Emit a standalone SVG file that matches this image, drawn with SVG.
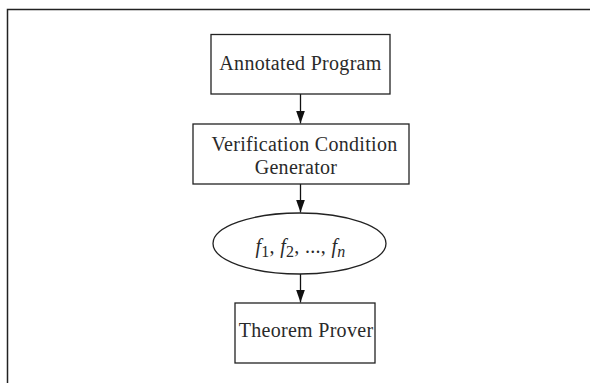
<svg xmlns="http://www.w3.org/2000/svg" width="590" height="383" viewBox="0 0 590 383">
<style>
.box{fill:#fff;stroke:#222;stroke-width:1.3}
.t{font-family:"Liberation Serif","DejaVu Serif",serif;font-size:20px;fill:#2a2a2a;text-anchor:middle;letter-spacing:0.3px}
.edge{stroke:#111;stroke-width:1.3;fill:none;marker-end:url(#ah)}
</style>
<defs>
<marker id="ah" markerWidth="13" markerHeight="9" refX="13" refY="4.5" orient="auto" markerUnits="userSpaceOnUse" viewBox="0 0 13 9">
<polygon points="0,0 13,4.5 0,9" fill="#111"/>
</marker>
</defs>
<rect width="590" height="383" fill="#fff"/>
<path d="M7.5,383 V9.5 H590" fill="none" stroke="#222" stroke-width="1.5"/>
<g id="connectors">
<line class="edge" x1="300.5" y1="94" x2="300.5" y2="123.5"/>
<line class="edge" x1="300.5" y1="184" x2="300.5" y2="212.5"/>
<line class="edge" x1="300.5" y1="274" x2="300.5" y2="302.5"/>
</g>
<g id="annotated">
<rect class="box" x="211" y="34.5" width="179" height="59.5"/>
<text class="t" x="300.5" y="70">Annotated Program</text>
</g>
<g id="vcg">
<rect class="box" x="193" y="124" width="216" height="60"/>
<text class="t" x="304.5" y="151">Verification Condition</text>
<text class="t" x="296" y="174">Generator</text>
</g>
<g id="formulas">
<ellipse class="box" cx="299.5" cy="243.5" rx="86.5" ry="30.5"/>
<text class="t" x="300.5" y="253" font-size="24"><tspan font-style="italic">f</tspan><tspan font-size="16" dy="4">1</tspan><tspan dy="-4">, </tspan><tspan font-style="italic">f</tspan><tspan font-size="16" dy="4">2</tspan><tspan dy="-4">, ..., </tspan><tspan font-style="italic">f</tspan><tspan font-size="16" dy="4" font-style="italic">n</tspan></text>
</g>
<g id="prover">
<rect class="box" x="235" y="303" width="140" height="60"/>
<text class="t" x="306" y="337">Theorem Prover</text>
</g>
</svg>
